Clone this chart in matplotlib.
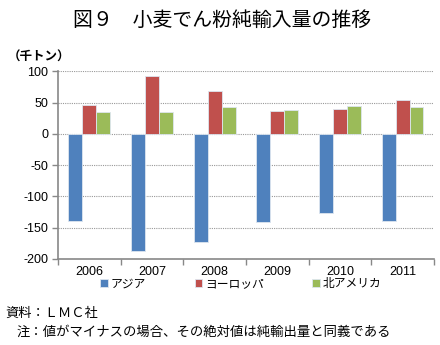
import numpy as np
import matplotlib
matplotlib.use('Agg')
import matplotlib.pyplot as plt

plt.rcParams['font.family'] = ['Noto Sans CJK JP', 'DejaVu Sans']
plt.rcParams['axes.unicode_minus'] = False

# データ（千トン）
years = ['2006', '2007', '2008', '2009', '2010', '2011']
asia = [-140, -188, -173, -141, -127, -140]
europe = [46, 92, 68, 36, 40, 54]
namerica = [35, 35, 43, 38, 45, 43]
series_names = ['アジア', 'ヨーロッパ', '北アメリカ']
colors = ['#4F81BD', '#C0504D', '#9BBB59']

fig = plt.figure(figsize=(4.4, 3.45), dpi=100)
ax = fig.add_axes([0.132, 0.25, 0.854, 0.543])

x = np.arange(len(years))
w = 0.223
for i, (vals, name, c) in enumerate(zip([asia, europe, namerica], series_names, colors)):
    ax.bar(x + (i - 1) * w, vals, w, color=c, edgecolor='#dde6f0', linewidth=0.6,
           label=name, zorder=3)

ax.set_ylim(-200, 100)
ax.set_xlim(-0.5, len(years) - 0.5)
ax.set_yticks(np.arange(-200, 101, 50))
ax.set_xticks(x)
ax.set_xticklabels(years)
ax.set_xticks(np.arange(-0.5, len(years), 1), minor=True)
ax.tick_params(axis='x', which='major', length=0, labelsize=9, pad=5)
ax.tick_params(axis='x', which='minor', length=4, color='#888888', width=1)
ax.tick_params(axis='y', length=4, color='#888888', width=1, labelsize=9, pad=3)
for lab in ax.get_xticklabels() + ax.get_yticklabels():
    lab.set_family(['Liberation Sans', 'DejaVu Sans'])
ax.yaxis.grid(True, linestyle=(0, (1, 1)), color='#999999', linewidth=0.8, zorder=0)

for s in ['top', 'right']:
    ax.spines[s].set_visible(False)
ax.spines['left'].set_color('#888888')
ax.spines['left'].set_linewidth(1.2)
ax.spines['bottom'].set_color('#888888')
ax.spines['bottom'].set_linewidth(1.2)

fig.legend(loc='center', bbox_to_anchor=(0.548, 0.177), ncol=3, frameon=False,
           fontsize=8.5, handlelength=0.65, handleheight=0.65, handletextpad=0.25,
           columnspacing=4.1, borderaxespad=0)

fig.text(0.505, 0.94, '図９　小麦でん粉純輸入量の推移', ha='center', va='center', fontsize=14.3)
fig.text(0.018, 0.835, '（千トン）', ha='left', va='center', fontsize=9, fontweight='bold')
fig.text(0.012, 0.093, '資料：ＬＭＣ社', ha='left', va='center', fontsize=9.5)
fig.text(0.038, 0.038, '注：値がマイナスの場合、その絶対値は純輸出量と同義である',
         ha='left', va='center', fontsize=9.6)

fig.savefig('out.png', dpi=100)
